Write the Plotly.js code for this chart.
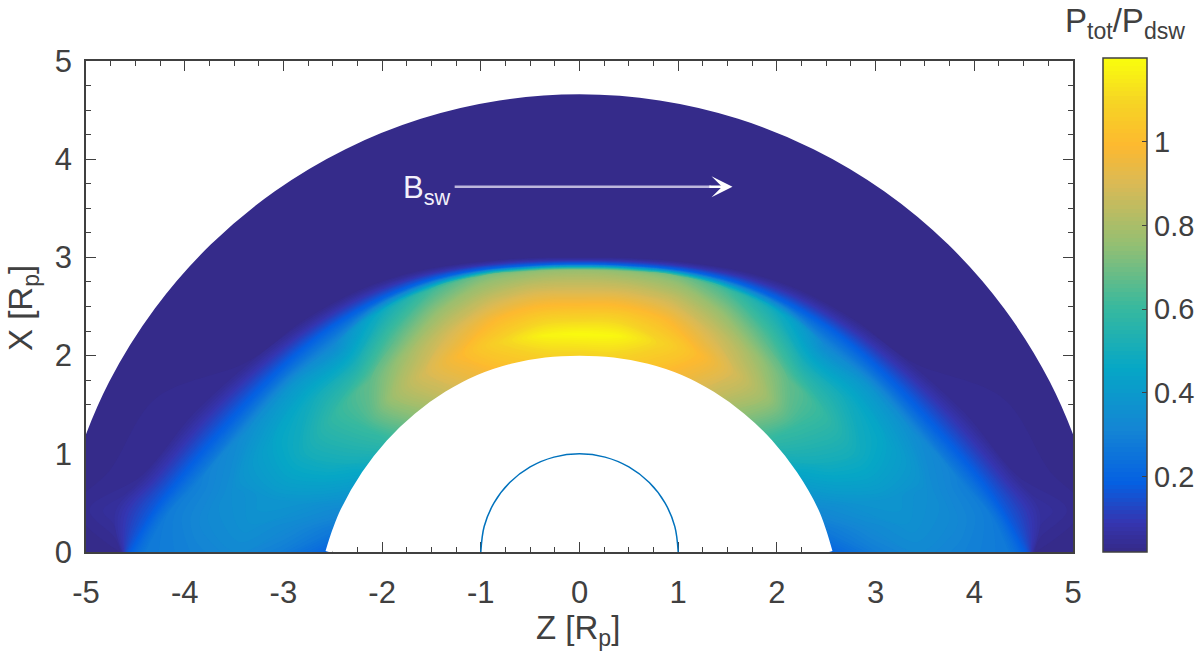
<!DOCTYPE html>
<html>
<head>
<meta charset="utf-8">
<script src="https://cdn.plot.ly/plotly-3.0.1.min.js"></script>
<style>html,body{margin:0;padding:0;background:#fff}</style>
</head>
<body>
<div id="chart" style="width:1200px;height:667px"></div>
<script>
// ── Data ──────────────────────────────────────────────────────────────────────
const angles   = [-90,-85,-80,-70,-60,-50,-40,-30,-20,-10,0,10,20,30,40,50,60,70,80,85,90];
const rInner   = [2.575,2.515,2.46,2.35,2.26,2.185,2.125,2.08,2.04,2.012,2.00,2.012,2.04,2.08,2.125,2.185,2.26,2.35,2.46,2.51,2.565];
const rFrontIn = [4.40,4.20,3.95,3.58,3.38,3.27,3.17,3.07,2.98,2.90,2.87,2.90,2.98,3.07,3.17,3.27,3.38,3.58,3.95,4.18,4.35];
const rFrontMid= [4.58,4.38,4.15,3.78,3.57,3.42,3.29,3.17,3.05,2.96,2.93,2.96,3.05,3.17,3.29,3.42,3.57,3.78,4.15,4.35,4.54];
const rFrontOut= [4.66,4.72,4.50,4.15,3.88,3.66,3.48,3.30,3.14,3.04,3.00,3.04,3.14,3.30,3.48,3.66,3.88,4.15,4.50,4.68,4.62];
const rOuter   = [5.314,5.25,5.187,5.07,4.965,4.874,4.798,4.738,4.695,4.669,4.66,4.669,4.695,4.738,4.798,4.874,4.965,5.07,5.187,5.25,5.314];

// P_tot/P_dsw per angle, from inner edge out through the front to the outer edge
const pressure = [
  [0.20,0.29,0.33,0.30,0.27,0.16,0.03,0.02],
  [0.27,0.33,0.36,0.33,0.28,0.17,0.06,0.02],
  [0.33,0.37,0.38,0.35,0.29,0.18,0.04,0.02],
  [0.45,0.50,0.50,0.45,0.35,0.20,0.04,0.02],
  [0.58,0.60,0.60,0.50,0.38,0.20,0.03,0.02],
  [0.74,0.78,0.68,0.50,0.32,0.20,0.03,0.02],
  [0.86,0.90,0.80,0.64,0.47,0.20,0.03,0.02],
  [0.95,1.00,0.90,0.77,0.60,0.20,0.03,0.02],
  [1.02,1.09,0.99,0.85,0.70,0.20,0.03,0.02],
  [1.06,1.17,1.04,0.90,0.74,0.20,0.03,0.02],
  [1.07,1.19,1.05,0.90,0.76,0.20,0.03,0.02],
  [1.07,1.18,1.05,0.90,0.74,0.20,0.03,0.02],
  [1.03,1.10,1.00,0.86,0.70,0.20,0.03,0.02],
  [0.96,1.01,0.90,0.77,0.60,0.20,0.03,0.02],
  [0.86,0.90,0.80,0.64,0.47,0.20,0.03,0.02],
  [0.74,0.78,0.68,0.50,0.32,0.20,0.03,0.02],
  [0.58,0.60,0.60,0.50,0.38,0.20,0.03,0.02],
  [0.45,0.50,0.50,0.45,0.35,0.20,0.04,0.02],
  [0.33,0.37,0.38,0.35,0.29,0.18,0.04,0.02],
  [0.27,0.33,0.36,0.33,0.28,0.17,0.06,0.02],
  [0.20,0.29,0.33,0.30,0.27,0.16,0.03,0.02],
];

const circleZ = [-1,-0.966,-0.866,-0.707,-0.5,-0.259,0,0.259,0.5,0.707,0.866,0.966,1];
const circleX = [0,0.259,0.5,0.707,0.866,0.966,1,0.966,0.866,0.707,0.5,0.259,0];

const tickVals   = [-5,-4,-3,-2,-1,0,1,2,3,4,5];
const tickLabels = ['-5','-4','-3','-2','-1','0','1','2','3','4','5'];
const yTickVals  = [0,1,2,3,4,5];
const cbarTicks  = [0.2,0.4,0.6,0.8,1];

const parula = [
  [0,'#352a87'],[0.06,'#3535b0'],[0.14,'#0560e2'],[0.25,'#1485d4'],[0.375,'#06a7c6'],[0.5,'#38b99e'],
  [0.625,'#92bf73'],[0.75,'#d9ba56'],[0.83,'#fdb92f'],[0.92,'#f6d524'],[1,'#f9fb0e'],
];

// ── Carpet grid: stations run from the inner edge to the outer edge ───────────
// the grid overshoots both edges a little, the white strokes below set the real edge
const EDGE_OVER = 0.03;
const carpetA = [0,1,2,3,4,5,6,7];
const gridX = [], gridY = [];
angles.forEach((deg, j) => {
  const t = deg * Math.PI / 180;
  const span = rFrontIn[j] - rInner[j];
  const radii = [rInner[j] - EDGE_OVER, rInner[j] + span / 4, rInner[j] + span / 2, rInner[j] + span * 3 / 4,
                 rFrontIn[j], rFrontMid[j], rFrontOut[j], rOuter[j] + EDGE_OVER];
  gridX.push(radii.map(r => r * Math.sin(t)));
  gridY.push(radii.map(r => r * Math.cos(t)));
});

function edgeTrace(radii, offset) {
  return {
    type: 'scatter', mode: 'lines', hoverinfo: 'skip', showlegend: false,
    x: angles.map((deg, j) => (radii[j] + offset) * Math.sin(deg * Math.PI / 180)),
    y: angles.map((deg, j) => (radii[j] + offset) * Math.cos(deg * Math.PI / 180)),
    line: { color: '#fff', width: 7, shape: 'spline' },
  };
}

const hiddenCarpetAxis = {
  type: 'linear', smoothing: 1, showgrid: false, showline: false, showticklabels: 'none',
  startline: false, endline: false, minorgridcount: 0, tickmode: 'array', tickvals: [], ticks: '',
};

const INK = '#404040';
const FONT = 'Liberation Sans, Arial, sans-serif';
const SUB = s => `<sub style="font-size:80%">${s}</sub>`;

const traces = [
  {
    type: 'carpet', carpet: 'c1', a: carpetA, b: angles, x: gridX, y: gridY,
    aaxis: { ...hiddenCarpetAxis }, baxis: { ...hiddenCarpetAxis },
  },
  {
    type: 'contourcarpet', carpet: 'c1', a: carpetA, b: angles, z: pressure,
    colorscale: parula, zmin: 0.02, zmax: 1.2, autocontour: false,
    contours: { start: 0.02, end: 1.2, size: 0.01, coloring: 'fill', showlines: false },
    line: { width: 0 },
    colorbar: {
      x: 1017 / 987, xanchor: 'left', xpad: 0, y: 0, yanchor: 'bottom', ypad: 0,
      len: 494 / 491, lenmode: 'fraction', thickness: 44, thicknessmode: 'pixels',
      tickmode: 'array', tickvals: cbarTicks, ticktext: cbarTicks.map(String),
      ticks: 'inside', ticklen: 5, tickwidth: 1, tickcolor: INK,
      outlinewidth: 1.5, outlinecolor: INK, borderwidth: 0,
      tickfont: { family: FONT, size: 29, color: INK },
    },
  },
  edgeTrace(rInner, -0.036),
  edgeTrace(rOuter, 0.036),
  {
    type: 'scatter', mode: 'lines', x: circleZ, y: circleX, hoverinfo: 'skip', showlegend: false,
    line: { color: '#0072BD', width: 1.5, shape: 'spline' },
  },
];

const axisBase = {
  ticks: 'inside', ticklen: 10, tickwidth: 1, tickcolor: INK,
  showline: true, linecolor: INK, linewidth: 1.5, mirror: 'ticks', showgrid: false, zeroline: false,
  layer: 'below traces',
  tickfont: { family: FONT, size: 31, color: INK },
  minor: { dtick: 0.25, ticks: 'inside', ticklen: 5, tickwidth: 1, tickcolor: INK, showgrid: false },
};

Plotly.newPlot('chart', traces, {
  width: 1200, height: 667,
  margin: { l: 86, r: 127, t: 61, b: 115, pad: 0, autoexpand: false },
  paper_bgcolor: '#fff', plot_bgcolor: '#fff',
  showlegend: false,
  xaxis: {
    ...axisBase, range: [-5, 5], tickmode: 'array', tickvals: tickVals, ticktext: tickLabels,
    ticklabelstandoff: 12,
  },
  yaxis: {
    ...axisBase, range: [0, 5], tickmode: 'array', tickvals: yTickVals, ticktext: yTickVals.map(String),
    ticklabelstandoff: 6,
  },
  annotations: [
    {
      xref: 'x', yref: 'y', x: 1.33, y: 3.72, ax: -1.28, ay: 3.72, axref: 'x', ayref: 'y',
      text: '', showarrow: true, arrowhead: 0, arrowwidth: 2.5, arrowcolor: '#bdb7dc',
    },
    {
      xref: 'x', yref: 'y', x: 1.55, y: 3.72, ax: 1.3, ay: 3.72, axref: 'x', ayref: 'y',
      text: '', showarrow: true, arrowhead: 3, arrowsize: 1.4, arrowwidth: 2.5, arrowcolor: '#ffffff',
    },
    {
      xref: 'x', yref: 'y', x: -1.28, y: 3.69, xanchor: 'right', yanchor: 'middle', showarrow: false,
      text: 'B' + SUB('sw'), font: { family: FONT, size: 31, color: '#f2f0fa' },
    },
    {
      xref: 'paper', yref: 'paper', x: 1039 / 987, y: 529 / 491, xanchor: 'center', yanchor: 'middle',
      showarrow: false, text: 'P' + SUB('tot') + '/P' + SUB('dsw'),
      font: { family: FONT, size: 33, color: INK },
    },
    {
      xref: 'paper', yref: 'paper', x: 492 / 987, y: -78 / 491, xanchor: 'center', yanchor: 'middle',
      showarrow: false, text: 'Z [R' + SUB('p') + ']',
      font: { family: FONT, size: 33, color: INK },
    },
    {
      xref: 'paper', yref: 'paper', x: -63 / 987, y: 244 / 491, xanchor: 'center', yanchor: 'middle',
      showarrow: false, textangle: -90, text: 'X [R' + SUB('p') + ']',
      font: { family: FONT, size: 33, color: INK },
    },
  ],
}, { displayModeBar: false, responsive: false });
</script>
</body>
</html>
